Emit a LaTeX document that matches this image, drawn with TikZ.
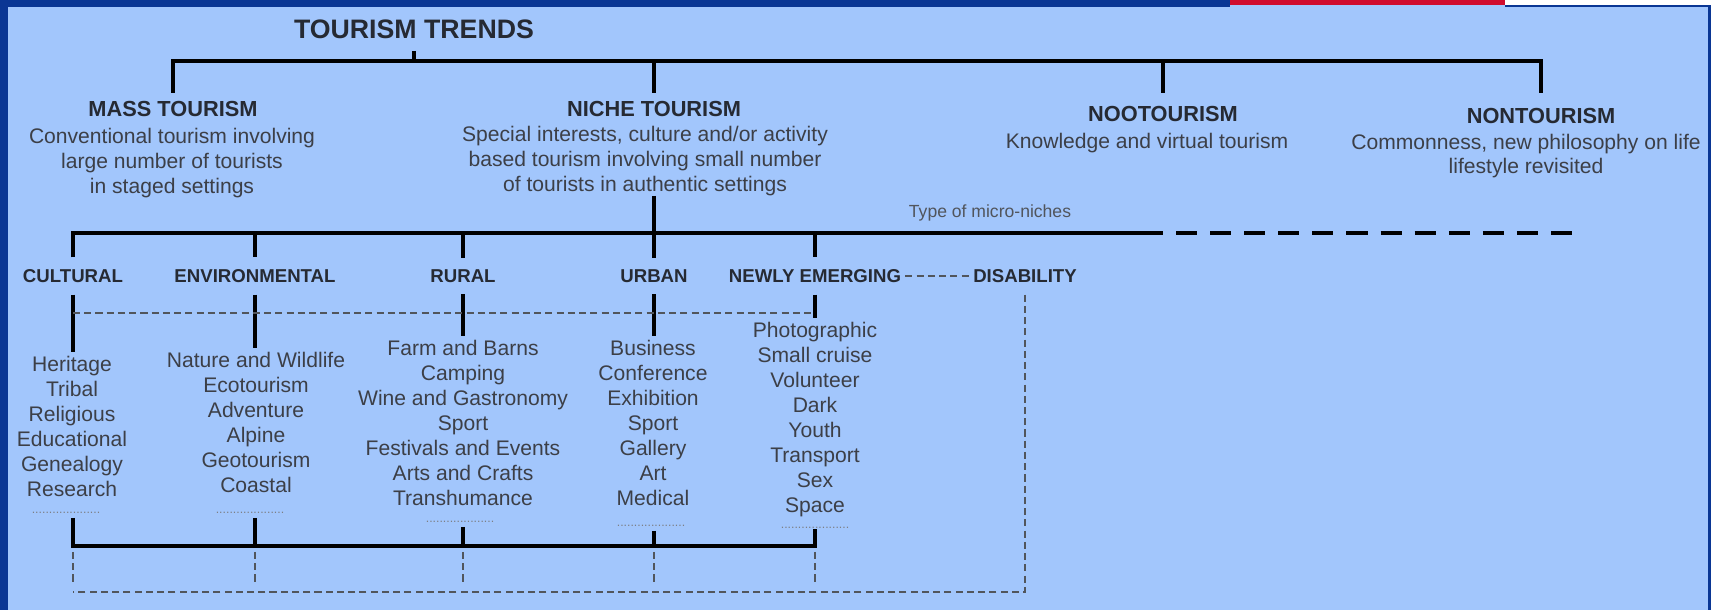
\documentclass[tikz,border=0pt]{standalone}
\usepackage{fontspec}
\setmainfont{Liberation Sans}

\definecolor{panel}{HTML}{A2C6FC}
\definecolor{navy}{HTML}{0A3694}
\definecolor{redbar}{HTML}{D00C2E}
\definecolor{ink}{HTML}{262A33}

\begin{document}
\begin{tikzpicture}[
  bar/.style={line width=1.2pt,black},
  faint/.style={line width=0.4pt,ink!80,dash pattern=on 2pt off 1.2pt},
  heading/.style={font=\fontsize{6.2}{7.4}\selectfont\bfseries,text=ink},
  blurb/.style={font=\fontsize{6}{7}\selectfont,align=center,text=ink!90},
  kind/.style={font=\fontsize{5.3}{6.3}\selectfont\bfseries,text=ink,inner xsep=1pt,inner ysep=3.2pt},
  items/.style={font=\fontsize{6}{7.1}\selectfont,align=center,text=ink!90,anchor=north,inner ysep=1pt},
  more/.style={font=\fontsize{3.5}{4}\selectfont,text=ink!60}
]
  \useasboundingbox (0,0) rectangle (17.12,6.10);
  \fill[panel] (0,0) rectangle (17.12,6.10);
  \fill[navy] (0,0) rectangle (0.08,6.10);
  \fill[navy] (0,6.03) rectangle (12.30,6.10);
  \fill[redbar] (12.30,6.05) rectangle (15.05,6.10);
  \fill[white] (15.05,6.05) rectangle (17.12,6.10);
  \draw[navy,line width=0.6pt] (15.05,6.04) -- (17.095,6.04) -- (17.095,0);
  \fill[white] (17.11,0) rectangle (17.12,6.10);

  \node[font=\fontsize{7.6}{9}\selectfont\bfseries,text=ink] (title) at (4.14,5.81) {TOURISM TRENDS};

  \coordinate (bar1)  at (0,5.49);
  \coordinate (hdrop) at (0,5.17);

  \node[heading] (mass)  at (1.73,5.01)  {MASS TOURISM};
  \node[heading] (niche) at (6.54,5.01)  {NICHE TOURISM};
  \node[heading] (noo)   at (11.63,4.96) {NOOTOURISM};
  \node[heading] (non)   at (15.41,4.94) {NONTOURISM};

  \node[blurb] (massd)  at (1.72,4.47)  {Conventional tourism involving\\large number of tourists\\in staged settings};
  \node[blurb] (niched) at (6.45,4.49)  {Special interests, culture and/or activity\\based tourism involving small number\\of tourists in authentic settings};
  \node[blurb] (nood)   at (11.47,4.67) {Knowledge and virtual tourism};
  \node[blurb] (nond)   at (15.26,4.54) {Commonness, new philosophy on life\\lifestyle revisited};

  \draw[bar] (title) -- (title |- bar1);
  \draw[bar] (mass |- hdrop) |- (non |- bar1) -- (non |- hdrop);
  \draw[bar] (niche |- bar1) -- (niche |- hdrop);
  \draw[bar] (noo |- bar1) -- (noo |- hdrop);

  \coordinate (bar2) at (0,3.77);
  \coordinate (tail) at (15.72,3.77);
  \node[font=\fontsize{5}{6}\selectfont,text=ink!80] (micro) at (9.90,3.97) {Type of micro-niches};

  \node[kind] (cul) at (0.73,3.34)  {CULTURAL};
  \node[kind] (env) at (2.55,3.34)  {ENVIRONMENTAL};
  \node[kind] (rur) at (4.63,3.34)  {RURAL};
  \node[kind] (urb) at (6.54,3.34)  {URBAN};
  \node[kind] (new) at (8.15,3.34)  {NEWLY EMERGING};
  \node[kind] (dis) at (10.25,3.34) {DISABILITY};

  \draw[bar,shorten <=-1.2mm] (niched.south -| urb) -- (urb.north);
  \draw[bar] (cul.north) |- (noo |- bar2);
  \draw[bar,dash pattern=on 6pt off 3.7pt,dash phase=6pt] (noo |- bar2) -- (tail);
  \foreach \n in {env,rur,new} \draw[bar] (\n |- bar2) -- (\n.north);
  \draw[faint] (new.east) -- (dis.west);

  \node[items] (cul-list) at (0.72,2.575) {Heritage\\Tribal\\Religious\\Educational\\Genealogy\\Research};
  \node[items] (env-list) at (2.56,2.615) {Nature and Wildlife\\Ecotourism\\Adventure\\Alpine\\Geotourism\\Coastal};
  \node[items] (rur-list) at (4.63,2.735) {Farm and Barns\\Camping\\Wine and Gastronomy\\Sport\\Festivals and Events\\Arts and Crafts\\Transhumance};
  \node[items] (urb-list) at (6.53,2.735) {Business\\Conference\\Exhibition\\Sport\\Gallery\\Art\\Medical};
  \node[items] (new-list) at (8.15,2.915) {Photographic\\Small cruise\\Volunteer\\Dark\\Youth\\Transport\\Sex\\Space};

  \foreach \n in {cul,env,rur,urb,new} \draw[bar] (\n.south) -- (\n |- \n-list.north);
  \coordinate (mid) at (0,2.97);
  \draw[faint] (cul |- mid) -- (new |- mid);

  \node[more] (cul-dots) at (0.66,0.97) {....................};
  \node[more] (env-dots) at (2.50,0.97) {....................};
  \node[more] (rur-dots) at (4.60,0.88) {....................};
  \node[more] (urb-dots) at (6.51,0.84) {....................};
  \node[more] (new-dots) at (8.15,0.82) {....................};

  \coordinate (bar3) at (0,0.64);
  \draw[bar,shorten <=1.2pt] (cul |- cul-dots.base) |- (new |- bar3) -- (new |- new-dots.base);
  \foreach \n in {env,rur,urb} \draw[bar,shorten <=1.2pt] (\n |- \n-dots.base) -- (\n |- bar3);
  \coordinate (dtop) at (0,0.58);
  \coordinate (dbot) at (0,0.28);
  \foreach \n in {cul,env,rur,urb,new} \draw[faint] (\n |- dtop) -- (\n |- dbot);
  \coordinate (bar4) at (0,0.18);
  \draw[faint] (dis.south) |- (cul |- bar4);
\end{tikzpicture}
\end{document}
